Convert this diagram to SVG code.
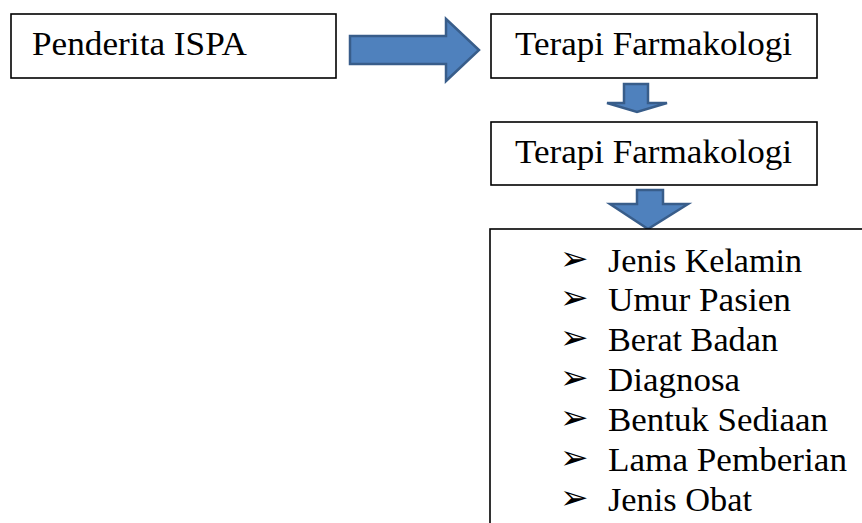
<svg xmlns="http://www.w3.org/2000/svg" width="862" height="523" viewBox="0 0 862 523">
<style>
.box{fill:#fff;stroke:#000;stroke-width:1.6}
.t{font-family:"Liberation Serif","Times New Roman",serif;font-size:33px;fill:#000}
.b{font-family:"DejaVu Sans",sans-serif;font-size:34px;fill:#000}
.arr{fill:#4F81BD;stroke:#385D8A;stroke-width:2.5;stroke-linejoin:miter}
</style>
<rect width="862" height="523" fill="#fff"/>
<g id="connectors">
<polygon class="arr" points="350,36 446,36 446,19 479,50 446,81 446,64 350,64"/>
<polygon class="arr" points="624,84 648,84 648,103 667,103 637,112 607,103 624,103"/>
<polygon class="arr" points="637,190 663,190 663,204 688,204 648,229 610,204 637,204"/>
</g>
<g id="n1">
<rect class="box" x="11" y="14" width="325" height="64"/>
<text class="t" x="32" y="55" textLength="215" lengthAdjust="spacingAndGlyphs">Penderita ISPA</text>
</g>
<g id="n2">
<rect class="box" x="491" y="14" width="326" height="64"/>
<text class="t" x="515" y="55" textLength="277" lengthAdjust="spacingAndGlyphs">Terapi Farmakologi</text>
</g>
<g id="n3">
<rect class="box" x="491" y="122" width="326" height="63"/>
<text class="t" x="515" y="163" textLength="277" lengthAdjust="spacingAndGlyphs">Terapi Farmakologi</text>
</g>
<g id="n4">
<rect class="box" x="490" y="229" width="420" height="340"/>
<g class="b">
<text x="560" y="270">➢</text>
<text x="560" y="309">➢</text>
<text x="560" y="349">➢</text>
<text x="560" y="389">➢</text>
<text x="560" y="429">➢</text>
<text x="560" y="469">➢</text>
<text x="560" y="509">➢</text>
</g>
<g class="t">
<text x="608" y="272" textLength="194" lengthAdjust="spacingAndGlyphs">Jenis Kelamin</text>
<text x="608" y="311" textLength="183" lengthAdjust="spacingAndGlyphs">Umur Pasien</text>
<text x="608" y="351" textLength="170" lengthAdjust="spacingAndGlyphs">Berat Badan</text>
<text x="608" y="391" textLength="132" lengthAdjust="spacingAndGlyphs">Diagnosa</text>
<text x="608" y="431" textLength="220" lengthAdjust="spacingAndGlyphs">Bentuk Sediaan</text>
<text x="608" y="471" textLength="239" lengthAdjust="spacingAndGlyphs">Lama Pemberian</text>
<text x="608" y="511" textLength="144" lengthAdjust="spacingAndGlyphs">Jenis Obat</text>
</g>
</g>
</svg>
